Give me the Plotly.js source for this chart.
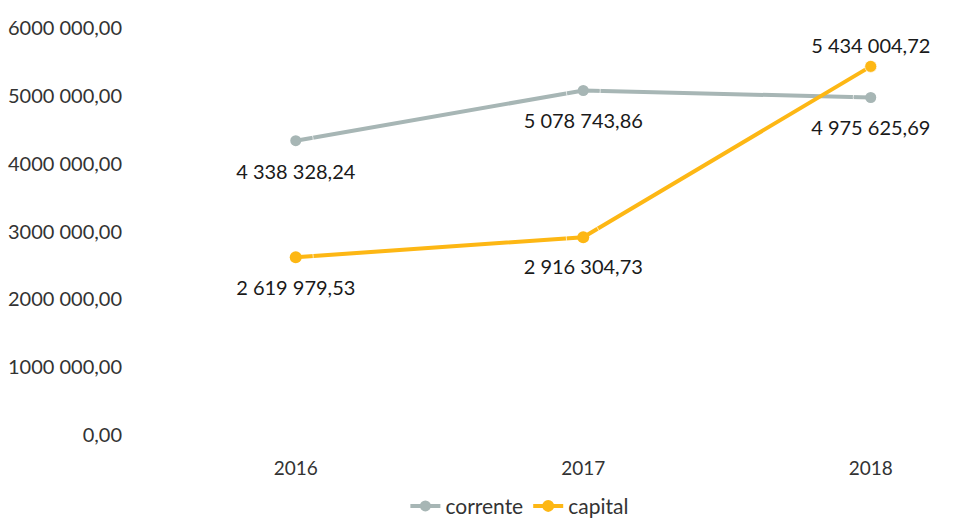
<!DOCTYPE html>
<html>
<head>
<meta charset="utf-8">
<script src="https://cdn.plot.ly/plotly-3.0.1.min.js"></script>
<style>
  html, body { margin: 0; padding: 0; background: #fff; }
  #chart { width: 957px; height: 522px; }
</style>
</head>
<body>
<div id="chart"></div>
<script>
var years = ['2016', '2017', '2018'];
var corrente = [4338328.24, 5078743.86, 4975625.69];
var capital = [2619979.53, 2916304.73, 5434004.72];
var yTicks = [0, 1000000, 2000000, 3000000, 4000000, 5000000, 6000000];
var yTickText = ['0,00', '1000 000,00', '2000 000,00', '3000 000,00', '4000 000,00', '5000 000,00', '6000 000,00'];
// label placement: text position and the (invisible) marker size that sets its gap
var correntePos = ['bottom center', 'bottom center', 'bottom center'];
var correnteGap = [35, 34, 35];
var capitalPos = ['bottom center', 'bottom center', 'top center'];
var capitalGap = [35, 34, 12];

function fmt(v) {
  var parts = v.toFixed(2).split('.');
  var s = parts[0].replace(/\B(?=(\d{3})+(?!\d))/g, ' ');
  return s + ',' + parts[1];
}

var grey = '#A7B6B5';
var gold = '#FDB714';

function labels(ys, pos, gap) {
  return {
    x: years, y: ys, type: 'scatter', mode: 'markers+text',
    text: ys.map(fmt), textposition: pos,
    textfont: {size: 20, color: '#1a1a1a'},
    marker: {size: gap, color: 'rgba(0,0,0,0)'},
    showlegend: false, hoverinfo: 'none', cliponaxis: false
  };
}

var data = [{
  x: years, y: corrente, name: 'corrente', type: 'scatter', mode: 'lines+markers',
  line: {color: grey, width: 4}, marker: {color: grey, size: 11},
  hoverinfo: 'none'
}, {
  x: years, y: capital, name: 'capital', type: 'scatter', mode: 'lines+markers',
  line: {color: gold, width: 4}, marker: {color: gold, size: 12},
  hoverinfo: 'none'
},
labels(corrente, correntePos, correnteGap),
labels(capital, capitalPos, capitalGap)];

var layout = {
  width: 957, height: 522,
  margin: {l: 152, r: 0, t: 28, b: 87, autoexpand: false},
  paper_bgcolor: '#fff', plot_bgcolor: '#fff',
  font: {family: 'Lato, "Open Sans", sans-serif', size: 19, color: '#333'},
  showlegend: true,
  legend: {orientation: 'h', x: 0.457, xanchor: 'center', y: -0.175, yanchor: 'middle',
    font: {size: 21, color: '#333'}},
  xaxis: {type: 'category', range: [-0.5, 2.3], showgrid: false, zeroline: false, showline: false,
    ticks: 'outside', ticklen: 16, tickcolor: 'rgba(0,0,0,0)', tickfont: {size: 19, color: '#333'}},
  yaxis: {range: [0, 6000000], tickvals: yTicks, ticktext: yTickText, showgrid: false,
    zeroline: false, showline: false, ticks: 'outside', ticklen: 25, tickcolor: 'rgba(0,0,0,0)',
    tickfont: {size: 20, color: '#333'}}
};

Plotly.newPlot('chart', data, layout, {displayModeBar: false});
</script>
</body>
</html>
